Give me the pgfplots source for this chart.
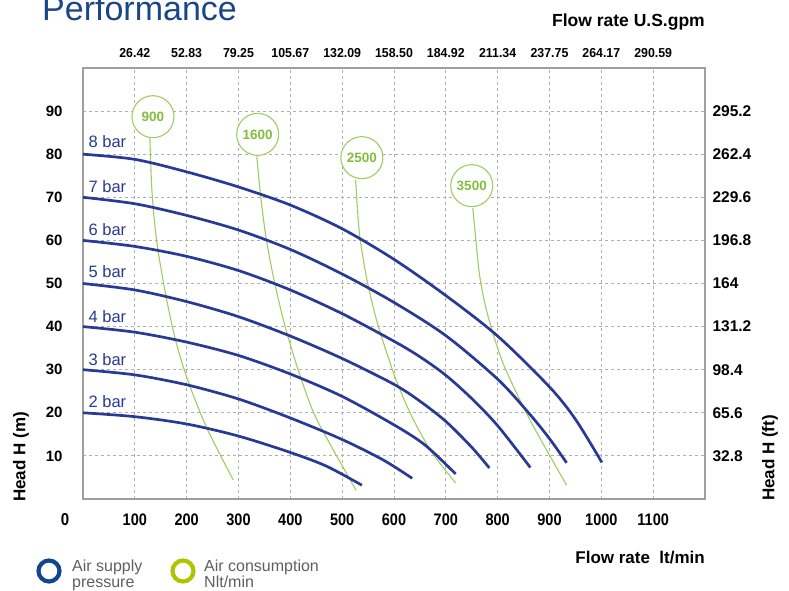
\documentclass[border=0pt]{standalone}
\usepackage{pgfplots}
\pgfplotsset{compat=1.18}
\usepackage{fontspec}
\setmainfont{Liberation Sans}

\definecolor{curveblue}{RGB}{40,58,150}
\definecolor{airgreen}{RGB}{160,205,95}
\definecolor{labelgreen}{RGB}{130,190,60}
\definecolor{titleblue}{RGB}{25,70,135}
\definecolor{ringblue}{RGB}{15,70,140}
\definecolor{ringgreen}{RGB}{175,195,0}
\definecolor{gridgray}{RGB}{175,175,175}
\definecolor{legendgray}{RGB}{95,95,95}

\pgfplotsset{
  pumpframe/.style={
    at={(83pt,92pt)}, anchor=south west,
    scale only axis, width=622pt, height=431pt,
    xmin=0, xmax=1200, ymin=0, ymax=100,
    xtick={100,200,...,1100}, ytick={10,20,...,90},
    major tick length=0pt,
    /pgf/number format/assume math mode=true,
    /pgf/number format/1000 sep={},
  },
}
\tikzset{
  barlabel/.style={anchor=west, text=curveblue, font=\fontsize{16.5}{16.5}\selectfont},
  airlabel/.style={circle, draw=airgreen, fill=white, line width=1.1pt, minimum size=42pt,
    inner sep=0pt, text=labelgreen, font=\bfseries\fontsize{13.5}{13.5}\selectfont},
}

\begin{document}
\begin{tikzpicture}[x=1pt,y=1pt]
\useasboundingbox (0,0) rectangle (789,591);

\node[anchor=base west, text=titleblue, font=\fontsize{34}{34}\selectfont, inner sep=0pt] at (42,570) {Performance};

\begin{axis}[pumpframe,
  grid=major, grid style={dashed, gridgray, line width=0.9pt},
  axis line style={draw=gray!75, line width=1.6pt},
  xticklabel style={font=\bfseries\fontsize{14.5}{14.5}\selectfont, yscale=1.15, yshift=-9pt},
  yticklabel style={font=\bfseries\fontsize{15}{15}\selectfont, xshift=-17pt},
  clip=false,
]
% air consumption (Nlt/min)
\addplot[airgreen, line width=1.1pt, smooth] coordinates {
  (129,84) (133,71.5) (142,60) (158,48.4) (177,37.6) (200,28.3) (238,16.7) (290,4.4)};
\addplot[airgreen, line width=1.1pt, smooth] coordinates {
  (335,80) (343,70) (354,60) (370,50) (390,40) (415,30) (445,20) (480,12) (527,2)};
\addplot[airgreen, line width=1.1pt, smooth] coordinates {
  (526,74) (533,62) (546,52) (563,43) (583,35) (606,27) (635,19) (672,11) (719,3.7)};
\addplot[airgreen, line width=1.1pt, smooth] coordinates {
  (752,67.5) (758,60) (765,52) (776,45) (792,38) (812,31) (840,23.7) (866,17.5) (898,10.6) (933,3.2)};

% air supply pressure curves
\addplot[curveblue, line width=2.7pt, smooth] coordinates {
  (0,80) (100,78.8) (200,75.9) (300,72.4) (400,68.2) (500,62.7) (600,55.6) (700,47.2)
  (800,37.8) (900,26) (950,18.5) (1001,8.5)};
\addplot[curveblue, line width=2.7pt, smooth] coordinates {
  (0,70) (100,68.5) (200,65.8) (300,62.4) (400,57.9) (500,52.2) (600,45.6) (700,37.9)
  (800,27.8) (861,19.8) (900,14) (933,8.4)};
\addplot[curveblue, line width=2.7pt, smooth] coordinates {
  (0,60) (100,58.6) (200,56.3) (300,53) (400,48.5) (500,43) (600,36.6) (650,33)
  (700,28.7) (750,23.3) (800,17) (863,7.3)};
\addplot[curveblue, line width=2.7pt, smooth] coordinates {
  (0,50) (100,48.5) (200,45.8) (300,42.3) (400,37.8) (500,32.6) (600,26.6) (650,22.7)
  (700,18) (750,12) (784,7.2)};
\addplot[curveblue, line width=2.7pt, smooth] coordinates {
  (0,40) (100,38.7) (200,36.4) (300,33.3) (400,29) (500,23.8) (600,17.2) (660,12.5) (719,5.8)};
\addplot[curveblue, line width=2.7pt, smooth] coordinates {
  (0,30) (100,28.8) (200,26.5) (300,23.2) (400,18.8) (500,13.8) (580,9) (635,4.8)};
\addplot[curveblue, line width=2.7pt, smooth] coordinates {
  (0,20) (100,19.1) (200,17.4) (300,14.6) (400,10.8) (470,7.6) (538,3.2)};

\node[airlabel] at (axis cs:135,88.7) {900};
\node[airlabel] at (axis cs:337,84.6) {1600};
\node[airlabel] at (axis cs:538,79.2) {2500};
\node[airlabel] at (axis cs:750,72.7) {3500};

\node[barlabel] at (axis cs:4,82.9) {8 bar};
\node[barlabel] at (axis cs:4,72.5) {7 bar};
\node[barlabel] at (axis cs:4,62.5) {6 bar};
\node[barlabel] at (axis cs:4,52.8) {5 bar};
\node[barlabel] at (axis cs:4,42.4) {4 bar};
\node[barlabel] at (axis cs:4,32.4) {3 bar};
\node[barlabel] at (axis cs:4,22.5) {2 bar};
\end{axis}

\begin{axis}[pumpframe,
  axis x line*=top, axis y line*=right,
  axis line style={draw=none},
  xticklabels={26.42,52.83,79.25,105.67,132.09,158.50,184.92,211.34,237.75,264.17,290.59},
  yticklabels={32.8,65.6,98.4,131.2,164,196.8,229.6,262.4,295.2},
  xticklabel style={font=\bfseries\fontsize{13}{13}\selectfont, xscale=0.95, yshift=7pt},
  yticklabel style={font=\bfseries\fontsize{15.5}{15.5}\selectfont, xshift=4pt},
]
\end{axis}

\node[font=\bfseries\fontsize{15}{15}\selectfont, yscale=1.15] at (65,71) {0};
\node[anchor=base east, font=\bfseries\fontsize{17.5}{17.5}\selectfont, inner sep=0pt] at (705,564) {Flow rate U.S.gpm};
\node[anchor=base east, font=\bfseries\fontsize{17}{17}\selectfont, inner sep=0pt] at (705,27) {Flow rate\ \ lt/min};
\node[rotate=90, font=\bfseries\fontsize{17}{17}\selectfont] at (21,134) {Head H (m)};
\node[rotate=90, font=\bfseries\fontsize{17}{17}\selectfont] at (770,133) {Head H (ft)};

% legend
\draw[ringblue, line width=4.2pt] (49,20) circle (10.5);
\draw[ringgreen, line width=4.2pt] (183,20) circle (10.5);
\node[anchor=base west, inner sep=0pt, text=legendgray, font=\fontsize{16}{16}\selectfont] at (72,19) {Air supply};
\node[anchor=base west, inner sep=0pt, text=legendgray, font=\fontsize{16}{16}\selectfont] at (72,3) {pressure};
\node[anchor=base west, inner sep=0pt, text=legendgray, font=\fontsize{16}{16}\selectfont] at (204,19) {Air consumption};
\node[anchor=base west, inner sep=0pt, text=legendgray, font=\fontsize{16}{16}\selectfont] at (204,3) {Nlt/min};
\end{tikzpicture}
\end{document}
